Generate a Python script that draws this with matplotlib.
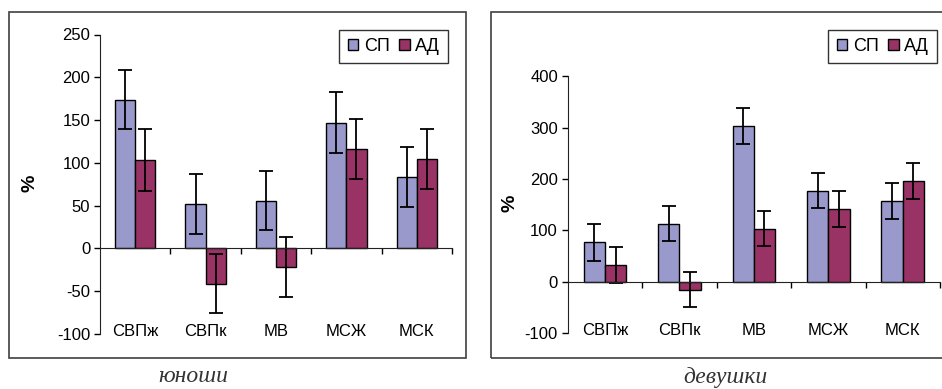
import numpy as np
import matplotlib
matplotlib.use("Agg")
import matplotlib.pyplot as plt
from matplotlib.patches import Rectangle

plt.rcParams['font.family'] = ['Liberation Sans', 'DejaVu Sans']
plt.rcParams['axes.unicode_minus'] = False

categories = ['СВПж', 'СВПк', 'МВ', 'МСЖ', 'МСК']
series_names = ['СП', 'АД']

# юноши
boys_sp = [174, 52, 56, 147, 83]
boys_sp_err = [35, 35, 35, 36, 35]
boys_ad = [103, -41, -22, 116, 104]
boys_ad_err = [36, 35, 35, 35, 35]

# девушки
girls_sp = [77, 113, 303, 177, 158]
girls_sp_err = [36, 34, 35, 34, 35]
girls_ad = [32, -16, 103, 142, 196]
girls_ad_err = [35, 34, 34, 35, 35]

boys_ticks = [-100, -50, 0, 50, 100, 150, 200, 250]
girls_ticks = [-100, 0, 100, 200, 300, 400]

color_sp = '#9999CC'
color_ad = '#993366'

W, H = 942, 389
fig = plt.figure(figsize=(W / 100, H / 100), dpi=100)

# outer frames round each chart
for x0, x1 in [(9, 466), (491, 945)]:
    fig.patches.append(Rectangle((x0 / W, 1 - 358 / H), (x1 - x0) / W, 346 / H,
                                 transform=fig.transFigure, fill=False,
                                 edgecolor='#404040', linewidth=1.2))


def draw_panel(rect, sp, sp_err, ad, ad_err, ticks, ylabel_x, ylabel_y, leg_x):
    ax = fig.add_axes(rect)
    x = np.arange(len(categories))
    w = 1 / 3.5
    ekw = dict(ecolor='black', elinewidth=1.3, capsize=4.7, capthick=1.3)
    ax.bar(x - w / 2, sp, w, yerr=sp_err, color=color_sp, edgecolor='black',
           linewidth=1.0, error_kw=ekw, label=series_names[0])
    ax.bar(x + w / 2, ad, w, yerr=ad_err, color=color_ad, edgecolor='black',
           linewidth=1.0, error_kw=ekw, label=series_names[1])
    ax.set_xlim(-0.5, len(categories) - 0.5)
    ax.set_ylim(ticks[0], ticks[-1])
    ax.set_yticks(ticks)
    ax.tick_params(axis='y', direction='out', length=4, width=1, labelsize=12, pad=3)
    ax.spines['top'].set_visible(False)
    ax.spines['right'].set_visible(False)
    ax.spines['bottom'].set_position(('data', 0))
    ax.spines['left'].set_color('#222222')
    ax.spines['bottom'].set_color('#222222')
    ax.set_xticks(np.arange(len(categories)) + 0.5)
    ax.set_xticklabels([])
    ax.tick_params(axis='x', direction='out', length=4, width=1)
    for i, c in enumerate(categories):
        ax.text(i, 0.01, c, transform=ax.get_xaxis_transform(), ha='center',
                va='center', fontsize=12)
    fig.text(ylabel_x / W, 1 - ylabel_y / H, '%', rotation=90, fontsize=14,
             fontweight='bold', ha='center', va='center')
    ax.legend(loc='upper right', bbox_to_anchor=(leg_x / W, 1 - 30 / H),
              bbox_transform=fig.transFigure, ncol=2, fontsize=13,
              frameon=True, fancybox=False, edgecolor='black',
              handlelength=0.6, handleheight=0.6, handletextpad=0.3,
              columnspacing=0.5, borderpad=0.45, borderaxespad=0)
    ax.get_legend().get_frame().set_linewidth(1.0)
    return ax


draw_panel([100 / W, 1 - 334 / H, 352 / W, 299.5 / H],
           boys_sp, boys_sp_err, boys_ad, boys_ad_err, boys_ticks, 30, 183, 448)
draw_panel([567.7 / W, 1 - 333 / H, 372.3 / W, 256.7 / H],
           girls_sp, girls_sp_err, girls_ad, girls_ad_err, girls_ticks, 510, 203, 937)

fig.text(193 / W, 1 - 377 / H, 'юноши', fontsize=17, style='italic',
         family=['Liberation Serif', 'DejaVu Serif'], color='#333333',
         ha='center', va='center')
fig.text(725 / W, 1 - 377 / H, 'девушки', fontsize=17, style='italic',
         family=['Liberation Serif', 'DejaVu Serif'], color='#333333',
         ha='center', va='center')

fig.savefig('out.png', dpi=100)
